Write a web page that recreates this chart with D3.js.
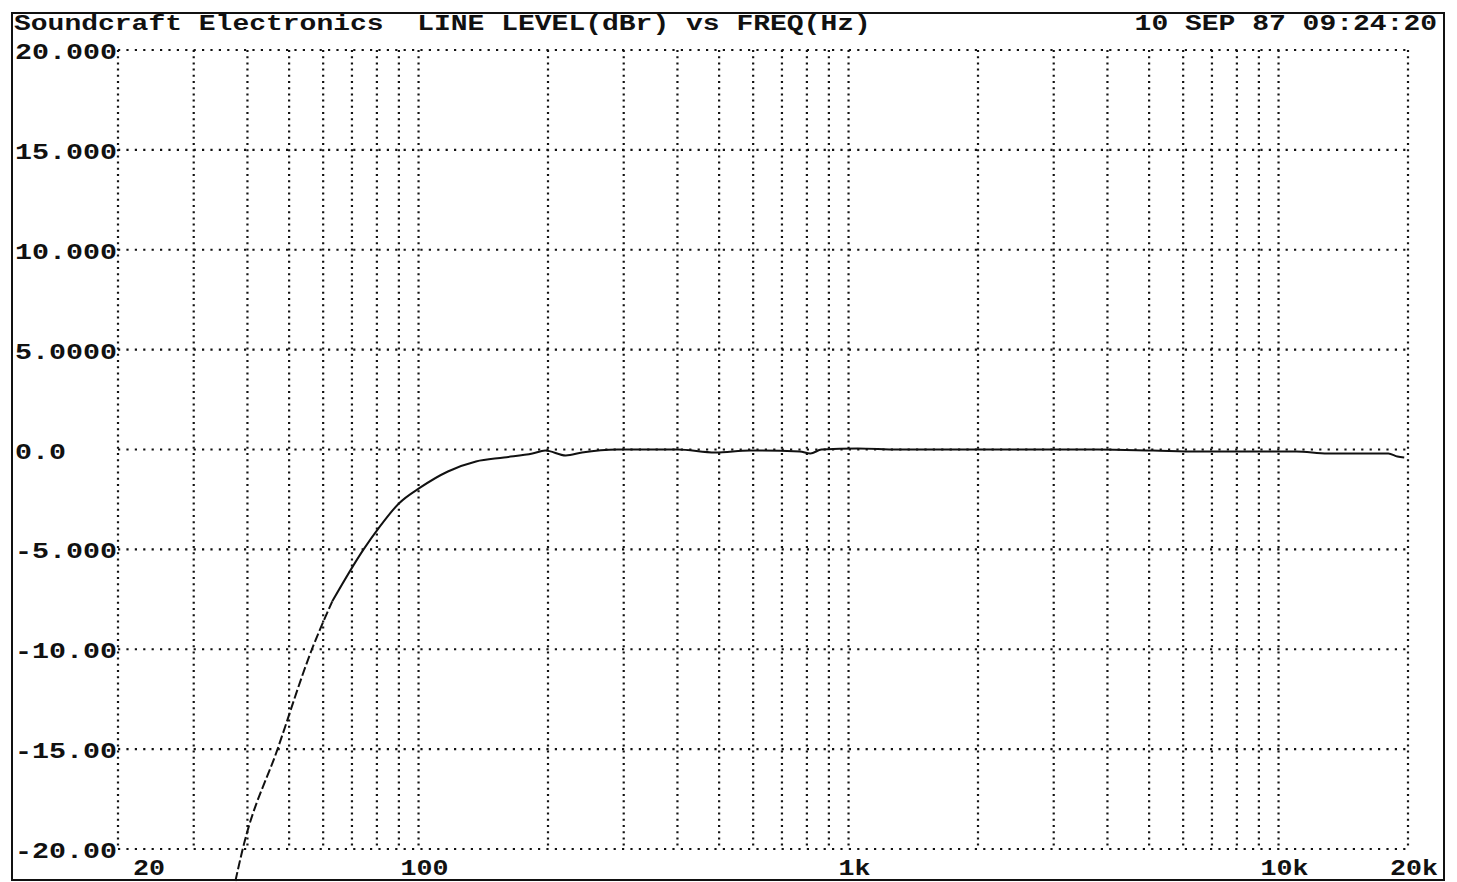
<!DOCTYPE html>
<html>
<head>
<meta charset="utf-8">
<script src="https://cdn.jsdelivr.net/npm/d3@7"></script>
<style>
  body { margin: 0; background: #fff; }
  text { font-family: "Liberation Mono", "DejaVu Sans Mono", monospace; font-weight: bold; fill: #111; white-space: pre; }
</style>
</head>
<body>
<div id="chart"></div>
<script>
// frequency response
var freqs  = [37.5, 39, 47, 56.5, 63, 74.5, 81, 90, 101, 117, 136, 158, 184, 197, 220, 240, 290, 400, 490, 590, 770, 815, 865, 1050, 1300, 2200, 3800, 5100, 6500, 11000, 13000, 18000, 18900, 19600];
var levels = [-21.6, -20, -15, -10, -7.6, -5, -3.9, -2.7, -1.9, -1.1, -0.6, -0.4, -0.2, -0.05, -0.3, -0.15, 0, 0, -0.15, -0.05, -0.1, -0.2, 0, 0.05, 0, 0, 0, -0.05, -0.1, -0.1, -0.2, -0.2, -0.35, -0.4];

var yTicks = [20, 15, 10, 5, 0, -5, -10, -15, -20];
var yTickLabels = ["20.000", "15.000", "10.000", "5.0000", "0.0", "-5.000", "-10.00", "-15.00", "-20.00"];

var xGrid = [20, 30, 40, 50, 60, 70, 80, 90, 100, 200, 300, 400, 500, 600, 700, 800, 900,
             1000, 2000, 3000, 4000, 5000, 6000, 7000, 8000, 9000, 10000, 20000];
var xTicks = [20, 100, 1000, 10000, 20000];
var xTickLabels = ["20", "100", "1k", "10k", "20k"];

var title = "Soundcraft Electronics  LINE LEVEL(dBr) vs FREQ(Hz)";
var stamp = "10 SEP 87 09:24:20";

var W = 1457, H = 882;
var charW = 16.8;

var svg = d3.select("#chart")
  .append("svg")
  .attr("width", W)
  .attr("height", H);

var x = d3.scaleLog()
    .domain([20, 20000])
    .range([118, 1408]);

var y = d3.scaleLinear()
    .domain([-20, 20])
    .range([849, 50]);

// outer frame
svg.append("rect")
  .attr("x", 12).attr("y", 13)
  .attr("width", 1432).attr("height", 867)
  .attr("fill", "none")
  .attr("stroke", "#111")
  .attr("stroke-width", 2);

// dotted grid
svg.append("g").selectAll("line")
  .data(yTicks)
  .enter()
  .append("line")
  .attr("x1", x(20)).attr("x2", x(20000))
  .attr("y1", function(d) { return y(d); })
  .attr("y2", function(d) { return y(d); })
  .attr("stroke", "#111")
  .attr("stroke-width", 2.2)
  .attr("stroke-dasharray", "2.2,6.2");

svg.append("g").selectAll("line")
  .data(xGrid)
  .enter()
  .append("line")
  .attr("x1", function(d) { return x(d); })
  .attr("x2", function(d) { return x(d); })
  .attr("y1", y(20)).attr("y2", y(-20))
  .attr("stroke", "#111")
  .attr("stroke-width", 2.2)
  .attr("stroke-dasharray", "2,4.2");

// y labels
svg.append("g").selectAll("text")
  .data(yTicks)
  .enter()
  .append("text")
  .attr("x", 15)
  .attr("y", function(d) { return y(d) + 9; })
  .attr("font-size", 22)
  .attr("textLength", function(d, i) { return yTickLabels[i].length * 17; })
  .attr("lengthAdjust", "spacingAndGlyphs")
  .text(function(d, i) { return yTickLabels[i]; });

// x labels
svg.append("g").selectAll("text")
  .data(xTicks)
  .enter()
  .append("text")
  .attr("x", function(d, i) { return i == 0 ? x(d) + 15 : x(d) + 6; })
  .attr("y", 875)
  .attr("text-anchor", function(d, i) { return i == 0 ? "start" : "middle"; })
  .attr("font-size", 22)
  .attr("textLength", function(d, i) { return xTickLabels[i].length * 16; })
  .attr("lengthAdjust", "spacingAndGlyphs")
  .text(function(d, i) { return xTickLabels[i]; });

// header
svg.append("text")
  .attr("x", 14).attr("y", 30)
  .attr("font-size", 22)
  .attr("textLength", title.length * charW)
  .attr("lengthAdjust", "spacingAndGlyphs")
  .text(title);

svg.append("text")
  .attr("x", 1437 - stamp.length * charW).attr("y", 30)
  .attr("font-size", 22)
  .attr("textLength", stamp.length * charW)
  .attr("lengthAdjust", "spacingAndGlyphs")
  .text(stamp);

// response curve: steep part comes out dashed on the plotter
var pts = freqs.map(function(f, i) { return [f, levels[i]]; });
var line = d3.line()
  .x(function(d) { return x(d[0]); })
  .y(function(d) { return y(d[1]); })
  .curve(d3.curveMonotoneX);

svg.append("path")
  .datum(pts.filter(function(d) { return d[0] <= 63; }))
  .attr("d", line)
  .attr("fill", "none")
  .attr("stroke", "#111")
  .attr("stroke-width", 2)
  .attr("stroke-dasharray", "9,3");

svg.append("path")
  .datum(pts.filter(function(d) { return d[0] >= 63; }))
  .attr("d", line)
  .attr("fill", "none")
  .attr("stroke", "#111")
  .attr("stroke-width", 2);
</script>
</body>
</html>
